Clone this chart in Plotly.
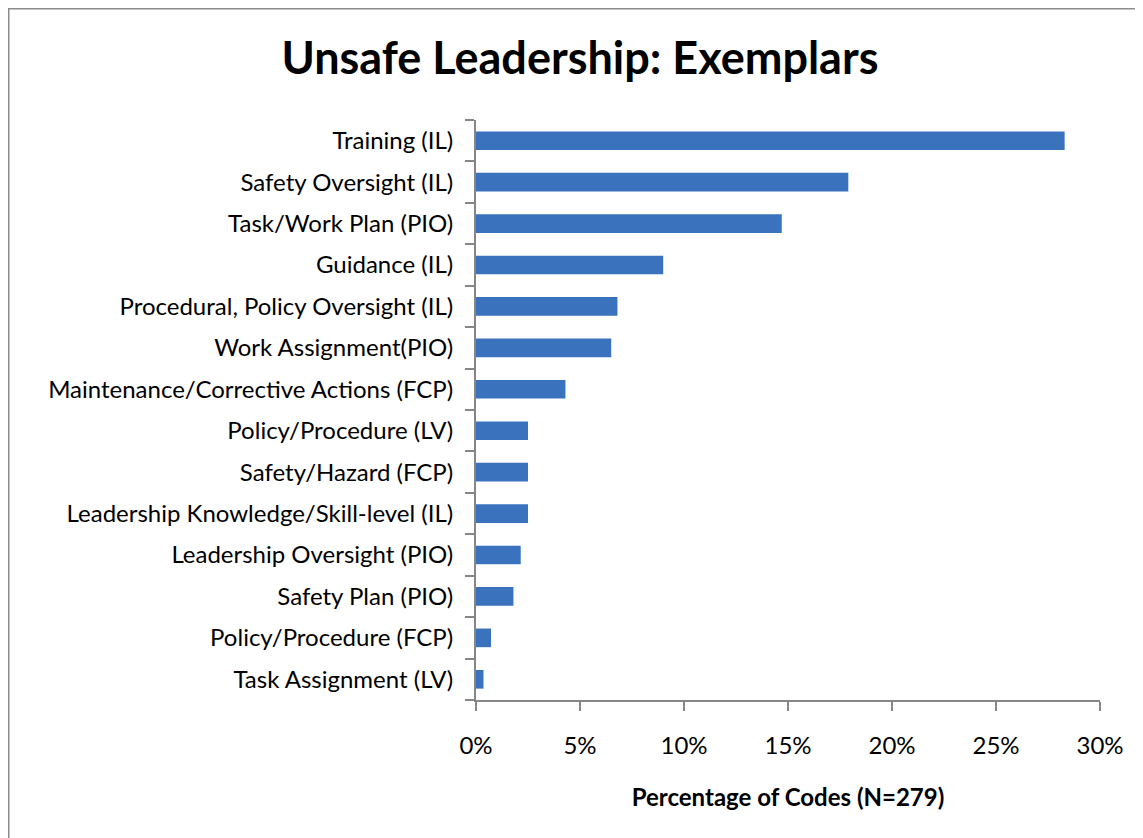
import plotly.graph_objects as go

categories = [
    "Training (IL)",
    "Safety Oversight (IL)",
    "Task/Work Plan (PIO)",
    "Guidance (IL)",
    "Procedural, Policy Oversight (IL)",
    "Work Assignment(PIO)",
    "Maintenance/Corrective Actions (FCP)",
    "Policy/Procedure (LV)",
    "Safety/Hazard (FCP)",
    "Leadership Knowledge/Skill-level (IL)",
    "Leadership Oversight (PIO)",
    "Safety Plan (PIO)",
    "Policy/Procedure (FCP)",
    "Task Assignment (LV)",
]
percent = [28.3, 17.9, 14.7, 9.0, 6.8, 6.5, 4.3, 2.5, 2.5, 2.5, 2.15, 1.8, 0.72, 0.36]
x_ticks = [0, 5, 10, 15, 20, 25, 30]
x_tick_labels = ["0%", "5%", "10%", "15%", "20%", "25%", "30%"]

# page has an 8px body margin; the div is offset by (8, 8)
W, H = 1135, 830
L, R, T, B = 468, 43, 112, 138
FONT = "Lato"

fig = go.Figure(go.Bar(
    x=percent,
    y=categories,
    orientation="h",
    marker=dict(color="#3A72BE", line=dict(width=0)),
))

fig.update_layout(
    width=W, height=H,
    margin=dict(l=L, r=R, t=T, b=B),
    paper_bgcolor="white",
    plot_bgcolor="white",
    bargap=0.55,
    showlegend=False,
    font=dict(family=FONT, color="black"),
    title=dict(
        text="<b>Unsafe Leadership: Exemplars</b>",
        x=572 / W, xanchor="center",
        y=1 - 50 / H, yanchor="middle",
        font=dict(size=45, family=FONT, color="black"),
    ),
)

fig.update_xaxes(
    range=[0, 30],
    tickvals=x_ticks,
    ticktext=x_tick_labels,
    showgrid=False,
    zeroline=False,
    showline=True,
    linecolor="#868686",
    linewidth=2,
    ticks="outside",
    ticklen=9,
    tickwidth=2,
    tickcolor="#868686",
    ticklabelstandoff=14,
    tickfont=dict(size=24, family=FONT, color="black"),
    title=dict(text="<b>Percentage of Codes (N=279)</b>",
               font=dict(size=24, family=FONT, color="black"),
               standoff=31),
    fixedrange=True,
)

fig.update_yaxes(
    categoryorder="array",
    categoryarray=categories[::-1],
    autorange=False,
    range=[-0.5, len(categories) - 0.5],
    showgrid=False,
    zeroline=False,
    showline=True,
    linecolor="#868686",
    linewidth=2,
    ticks="outside",
    tickson="boundaries",
    ticklen=9,
    tickwidth=2,
    tickcolor="#868686",
    tickfont=dict(size=24, family=FONT, color="black"),
    ticklabelstandoff=16,
    fixedrange=True,
)

pw = W - L - R
ph = H - T - B
fig.add_shape(
    type="rect", xref="paper", yref="paper",
    x0=(0.5 - L) / pw, x1=(W + 10 - L) / pw,
    y0=(H - B - (H + 10)) / ph, y1=(H - B - 0.5) / ph,
    line=dict(color="#8c8c8c", width=2),
    fillcolor="rgba(0,0,0,0)",
    layer="below",
)

fig.write_html("out.html")
